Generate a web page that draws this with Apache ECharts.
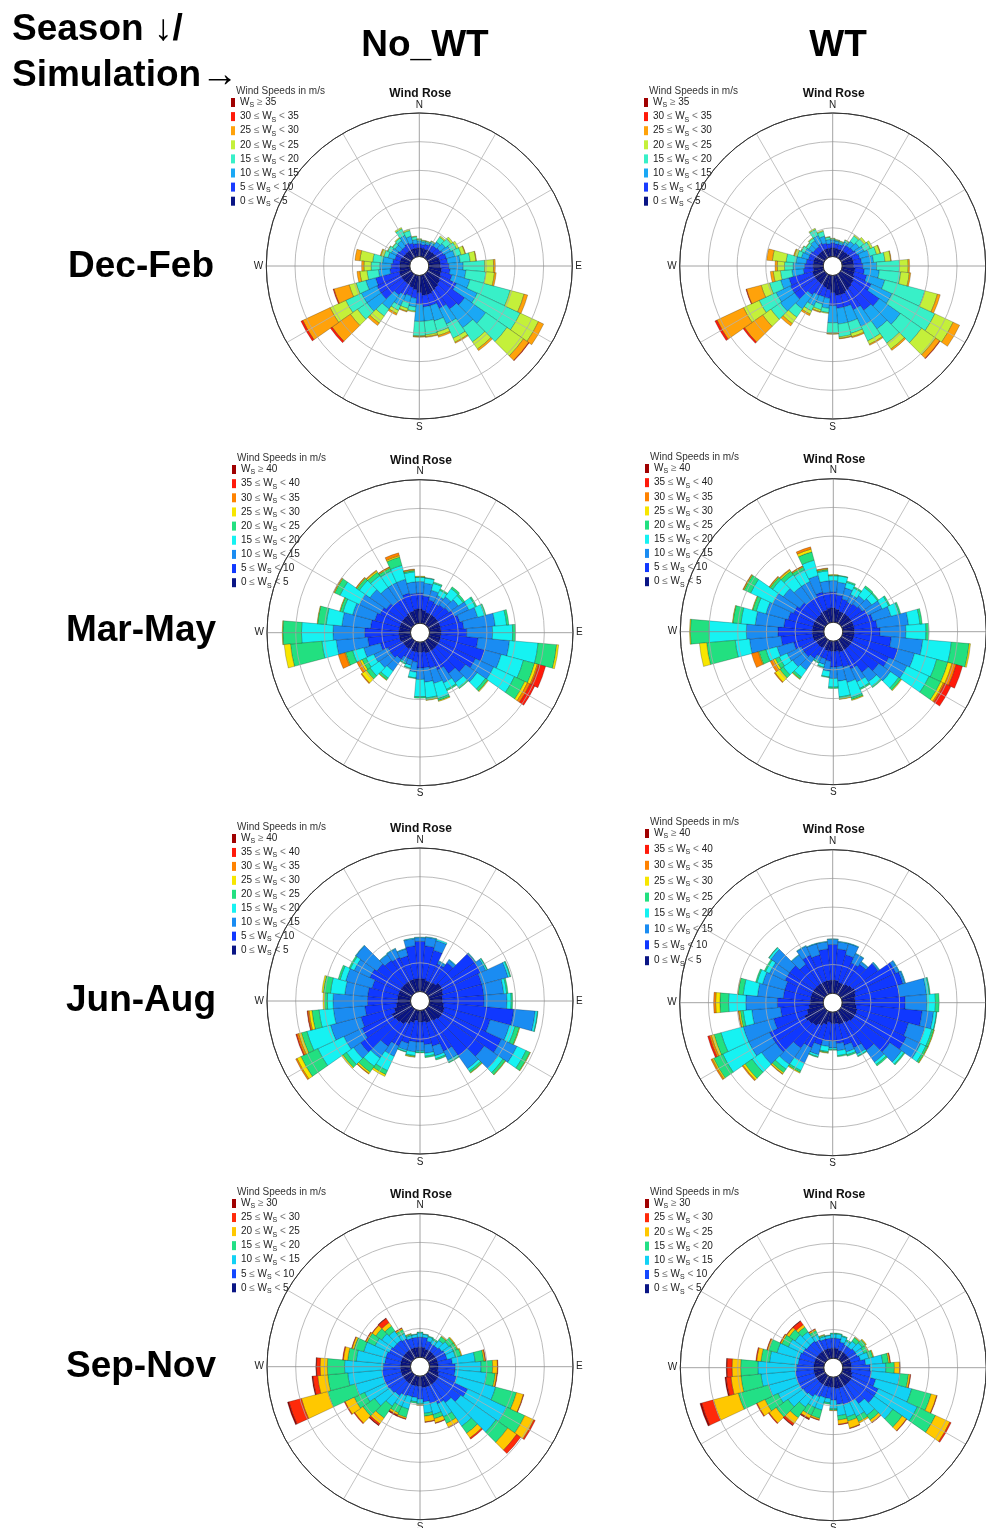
<!DOCTYPE html>
<html><head><meta charset="utf-8">
<script src="https://cdn.jsdelivr.net/npm/echarts@6/dist/echarts.min.js"></script>
<style>html,body{margin:0;padding:0;background:#fff}#c{width:986px;height:1528px}</style>
</head><body><div id="c"></div>
<script>
// ---------- categories ----------
const DIRECTIONS = [0,10,20,30,40,50,60,70,80,90,100,110,120,130,140,150,160,170,180,190,200,210,220,230,240,250,260,270,280,290,300,310,320,330,340,350];
const CARDINALS = {0:'N',90:'E',180:'S',270:'W'};
const SEASONS = ['Dec-Feb','Mar-May','Jun-Aug','Sep-Nov'];
const SIMULATIONS = ['No_WT','WT'];

// speed class edges (m/s)
const DJF_BINS = [0,5,10,15,20,25,30,35];
const MAM_BINS = [0,5,10,15,20,25,30,35,40];
const JJA_BINS = [0,5,10,15,20,25,30,35,40];
const SON_BINS = [0,5,10,15,20,25,30];

const DJF_COLORS = ['#0a1585','#1a3cff','#1aa8f5','#38f0c8','#c4f03a','#ffa20a','#ff1a0a','#a00000'];
const MAM_COLORS = ['#0a1585','#1038ff','#1a8cf2','#16f2f2','#22e080','#f7e600','#ff8200','#ff1a0a','#a00000'];
const JJA_COLORS = MAM_COLORS;
const SON_COLORS = ['#0a1585','#1448ff','#12d2f5','#22e086','#ffc800','#ff2a0a','#a00000'];

// cumulative frequency (ring units) at the outer edge of each speed class, one row per direction
const DJF_NOWT = [
[.30,.45,.55,.60,.62],[.30,.42,.52,.56,.58],[.28,.45,.52,.56,.58],[.30,.50,.58,.62,.64],
[.30,.52,.70,.90,.95],[.32,.55,.78,1.02,1.10],[.35,.60,.88,1.10,1.18],[.40,.65,.95,1.18,1.32,1.34],
[.40,.66,1.10,1.45,1.65,1.67],[.40,.70,1.20,1.95,2.26,2.32],[.45,.75,1.30,2.00,2.30,2.36],[.45,.85,1.50,2.95,3.45,3.58],
[.50,1.10,1.90,3.55,4.25,4.45],[.55,1.60,2.50,3.40,4.10,4.32,4.34],[.60,1.50,2.30,2.90,3.20,3.27],[.65,1.30,1.90,2.45,2.60,2.64],
[.70,1.10,1.65,2.05,2.18,2.24],[.70,1.10,1.60,2.08,2.14,2.17],[.60,1.00,1.60,2.10,2.13,2.15],[.50,.80,1.10,1.25,1.28],
[.45,.75,1.00,1.20,1.30,1.33],[.40,.80,1.20,1.38,1.50,1.56],[.40,.90,1.50,1.80,2.10,2.20],[.40,1.30,1.90,2.30,2.60,3.38,3.45],
[.40,1.30,1.90,2.50,3.10,4.15,4.22],[.40,1.25,1.60,1.95,2.20,2.75,2.78],[.35,.70,1.10,1.50,1.75,1.85],[.35,.65,1.05,1.35,1.60,1.68],
[.35,.60,.95,1.30,1.75,1.92],[.35,.55,.80,.95,1.05,1.08],[.30,.55,.75,.88,.90],[.30,.50,.70,.80,.82],
[.30,.50,.75,.85,.88],[.30,.55,.85,1.10,1.15],[.30,.50,.75,.95,1.00],[.30,.45,.60,.70,.72]
];
const DJF_WT = [
[.30,.48,.58,.62,.64],[.30,.45,.55,.58,.60],[.28,.45,.52,.56,.58],[.30,.50,.60,.66,.68],
[.30,.52,.72,.95,1.00],[.32,.55,.80,1.00,1.08],[.35,.60,.88,1.12,1.20],[.40,.65,1.00,1.25,1.38,1.40],
[.40,.68,1.10,1.50,1.70,1.72],[.40,.72,1.20,2.00,2.30,2.35],[.45,.78,1.30,2.05,2.35,2.40],[.45,.90,1.55,3.00,3.45,3.55],
[.50,1.15,1.95,3.60,4.30,4.55],[.55,1.65,2.55,3.45,4.05,4.22,4.24],[.60,1.55,2.35,2.95,3.20,3.26],[.65,1.35,2.00,2.55,2.68,2.72],
[.70,1.15,1.70,2.10,2.22,2.26],[.70,1.15,1.70,2.15,2.20,2.22],[.60,1.05,1.65,2.00,2.03,2.05],[.50,.80,1.15,1.30,1.33],
[.45,.78,1.05,1.25,1.32,1.35],[.40,.80,1.20,1.40,1.52,1.58],[.40,.90,1.50,1.85,2.12,2.22],[.40,1.30,1.90,2.30,2.65,3.42,3.48],
[.40,1.30,1.85,2.50,3.10,4.12,4.20],[.40,1.25,1.55,1.95,2.25,2.78,2.80],[.35,.70,1.10,1.50,1.75,1.85],[.35,.65,1.05,1.35,1.60,1.68],
[.35,.60,.95,1.30,1.78,1.98],[.35,.55,.80,.95,1.05,1.08],[.30,.55,.75,.88,.90],[.30,.50,.70,.80,.82],
[.30,.50,.75,.85,.88],[.30,.55,.85,1.08,1.12],[.30,.50,.75,.92,.96],[.30,.45,.60,.68,.70]
];
const MAM_NOWT = [
[.50,1.05,1.45,1.60,1.62,1.64],[.45,.95,1.40,1.58,1.60],[.40,.85,1.20,1.45,1.50],[.40,.80,1.10,1.30,1.35],
[.40,.85,1.20,1.55,1.62],[.40,.90,1.30,1.50,1.57],[.40,1.00,1.55,1.80,1.85],[.40,1.10,1.75,2.00,2.05],
[.40,1.20,2.30,2.70,2.78],[.40,1.30,2.20,2.90,3.00],[.40,1.70,2.80,3.80,4.45,4.52],[.40,2.00,2.60,3.40,3.80,3.90,3.95,4.20],
[.40,1.80,2.50,3.30,3.70,3.80,3.90,4.08],[.40,1.60,2.10,2.45,2.55,2.58],[.40,1.40,1.80,2.00,2.05],[.40,1.10,1.60,1.85,1.90],
[.40,.95,1.50,2.05,2.12,2.15],[.35,.90,1.40,1.95,2.02,2.04],[.35,.90,1.30,1.90,1.95],[.35,.70,1.05,1.25,1.28],
[.35,.65,.85,.95,.98],[.30,.65,.80,.85,.88],[.35,.80,1.30,1.60,1.68,1.70],[.35,.90,1.40,1.80,1.95,2.15,2.18],
[.35,.90,1.45,1.75,1.90,1.98,2.10],[.40,1.10,1.70,2.10,2.35,2.38,2.62],[.40,1.50,2.60,3.10,4.20,4.42],[.40,1.60,2.70,3.80,4.45,4.47],
[.40,1.40,2.40,2.95,3.25,3.27],[.40,1.30,2.10,2.45,2.55,2.57],[.40,1.20,2.00,2.75,2.95,2.98,3.00],[.40,1.10,1.80,2.25,2.35,2.38,2.40],
[.40,1.00,1.60,2.10,2.25,2.30,2.33],[.45,1.00,1.60,2.05,2.15,2.18,2.20],[.45,1.10,1.60,2.10,2.40,2.45,2.55],[.50,1.05,1.45,1.80,1.85,1.88,1.90]
];
const MAM_WT = [
[.50,1.05,1.45,1.62,1.64,1.66],[.45,.95,1.40,1.62,1.64],[.40,.85,1.25,1.45,1.50],[.40,.80,1.10,1.35,1.40],
[.40,.85,1.20,1.55,1.62],[.40,.90,1.30,1.55,1.60],[.40,1.00,1.55,1.80,1.85],[.40,1.10,1.75,2.05,2.10],
[.40,1.20,2.30,2.70,2.78],[.40,1.30,2.20,2.90,3.00],[.40,1.70,2.80,3.80,4.42,4.47],[.40,2.00,2.60,3.40,3.80,3.95,4.10,4.33],
[.40,1.80,2.50,3.35,3.80,3.90,3.95,4.19],[.40,1.60,2.10,2.45,2.55,2.58],[.40,1.40,1.80,2.00,2.05],[.40,1.10,1.60,1.85,1.90],
[.40,.95,1.50,2.05,2.12,2.15],[.35,.90,1.40,1.95,2.02,2.04],[.35,.90,1.30,1.60,1.65],[.35,.70,1.05,1.25,1.28],
[.35,.65,.85,.95,.98],[.30,.65,.80,.85,.88],[.35,.80,1.30,1.60,1.68,1.70],[.35,.90,1.40,1.80,1.95,2.15,2.18],
[.35,.90,1.45,1.75,1.90,1.98,2.10],[.40,1.10,1.70,2.10,2.35,2.38,2.62],[.40,1.50,2.60,3.10,4.10,4.35],[.40,1.60,2.70,4.00,4.65,4.68],
[.40,1.40,2.40,2.90,3.18,3.20],[.40,1.30,2.10,2.45,2.58,2.60],[.40,1.20,2.00,2.85,3.10,3.13,3.15],[.40,1.10,1.80,2.25,2.35,2.38,2.40],
[.40,1.00,1.60,2.10,2.25,2.30,2.33],[.45,1.00,1.60,2.05,2.15,2.18,2.20],[.45,1.10,1.70,2.25,2.55,2.65,2.73],[.50,1.05,1.45,1.80,1.85,1.88,1.90]
];
const JJA_NOWT = [
[.45,1.75,1.88,1.90],[.45,1.60,1.90,1.92],[.40,1.50,1.85,1.90],[.40,1.10,1.20,1.22],
[.45,1.30,1.42,1.44],[.55,2.00,2.03,2.05],[.55,2.00,2.20,2.25,2.27],[.50,1.90,2.85,2.92,2.95],
[.45,1.90,2.60,2.70,2.75],[.45,1.90,2.70,2.85,2.90],[.50,2.95,3.70,3.78,3.80],[.55,2.20,2.90,3.10,3.25,3.27],
[.55,2.80,3.40,3.75,3.90,3.92],[.55,2.40,3.00,3.20,3.30,3.32],[.50,2.00,2.55,2.65,2.72,2.74],[.45,1.60,1.95,2.02,2.05],
[.45,1.30,1.65,1.75,1.80],[.40,1.20,1.50,1.60,1.65],[.40,1.10,1.40,1.45,1.48],[.35,1.10,1.45,1.58,1.62,1.64],
[.45,1.20,1.45,1.50,1.52],[.55,1.40,1.80,2.35,2.50,2.57],[.65,1.60,2.10,2.45,2.70,2.76,2.78],[.70,2.20,2.50,2.80,2.95,3.00],
[.75,1.90,2.60,3.60,4.25,4.40,4.45],[.60,1.80,2.90,3.75,3.95,4.05,4.12,4.15],[.50,1.60,2.70,3.20,3.45,3.55,3.60,3.62],[.45,1.50,2.70,2.90,3.00,3.05],
[.45,1.50,2.30,2.80,3.05,3.10],[.45,1.40,2.35,2.55,2.62],[.45,1.60,2.20,2.35,2.40],[.45,1.50,2.40,2.42],
[.45,1.40,1.65,1.67],[.45,1.35,1.68,1.70],[.45,1.30,1.55,1.57],[.45,1.60,1.85,1.87]
];
const JJA_WT = [
[.45,1.70,1.88,1.90],[.45,1.55,1.80,1.82],[.40,1.40,1.80,1.82],[.40,1.20,1.55,1.57],
[.45,1.30,1.40,1.42],[.50,1.60,1.65,1.67],[.55,2.10,2.22,2.24],[.50,2.20,2.28,2.30],
[.45,2.00,2.95,3.05,3.08],[.45,2.20,2.95,3.25,3.38],[.50,2.80,3.20,3.30,3.32],[.55,2.40,3.00,3.25,3.32,3.34],
[.55,2.50,3.05,3.25,3.32,3.34],[.55,2.10,2.60,2.70,2.74],[.50,1.70,2.20,2.30,2.36],[.45,1.40,1.65,1.72,1.75],
[.45,1.20,1.45,1.55,1.60],[.40,1.10,1.35,1.52,1.56],[.40,1.00,1.25,1.30,1.33],[.35,1.00,1.20,1.38,1.42,1.44],
[.45,1.20,1.55,1.62,1.65],[.55,1.40,2.00,2.28,2.35,2.38],[.65,1.60,2.30,2.50,2.65,2.70,2.72],[.70,2.10,2.70,3.10,3.40,3.48,3.52],
[.75,2.10,2.90,3.90,4.25,4.30,4.35],[.60,1.80,2.90,3.70,3.95,4.05,4.12,4.18],[.50,1.50,2.50,2.80,2.90,2.95,2.98],[.45,1.60,2.70,3.30,3.60,3.75,3.82],
[.45,1.40,2.30,2.80,2.98,3.00],[.45,1.40,2.20,2.40,2.45],[.45,1.50,2.10,2.25,2.30],[.45,1.50,2.30,2.38,2.40],
[.45,1.30,1.70,1.72],[.45,1.50,1.85,1.87],[.45,1.40,1.80,1.82],[.45,1.55,1.80,1.82]
];
const SON_NOWT = [
[.35,.70,.85,.88],[.35,.70,.80,.82],[.30,.60,.75,.78],[.30,.55,.70,.75],
[.30,.55,.80,.95,.98],[.30,.60,.90,1.10,1.13],[.30,.65,.95,1.10,1.13],[.30,.65,.95,1.15,1.18],
[.30,.80,1.60,1.90,1.95,1.97],[.30,.90,1.80,2.20,2.37,2.39],[.30,.90,2.00,2.30,2.36,2.38],[.35,1.00,2.40,3.15,3.40,3.42],
[.40,1.50,3.00,3.70,4.05,4.10],[.40,1.40,2.90,3.40,3.78,3.95],[.40,1.20,2.20,2.50,2.70,2.75],[.40,1.10,1.60,1.85,2.00,2.02],
[.40,1.00,1.40,1.55,1.70,1.72],[.40,.90,1.30,1.40,1.60,1.62],[.35,.80,.95,1.00,1.02],[.35,.75,.90,.95],
[.35,.75,1.20,1.50,1.55,1.57],[.35,.80,1.20,1.45,1.52,1.55,1.57],[.35,.90,1.35,1.85,2.10,2.16,2.18],[.35,.95,1.60,2.10,2.45,2.48],
[.35,1.00,1.80,2.20,2.55,2.58],[.35,1.00,2.00,3.00,3.95,4.40,4.45],[.35,1.00,2.20,2.90,3.25,3.42,3.45],[.35,.95,2.30,2.90,3.15,3.28,3.30],
[.35,.90,1.90,2.20,2.35,2.38],[.35,.90,1.70,2.05,2.12,2.14],[.35,.85,1.40,1.70,1.75,1.77],[.35,.80,1.30,1.55,1.70,1.72],
[.35,.80,1.20,1.40,1.55,1.72,1.74],[.35,.75,.95,1.10,1.15,1.17],[.35,.70,.80,.85,.87],[.35,.70,.80,.82]
];
const SON_WT = [
[.35,.70,.85,.88],[.35,.70,.85,.88],[.30,.60,.80,.83],[.30,.55,.70,.75],
[.30,.55,.80,.95,.98],[.30,.60,.90,1.05,1.08],[.30,.60,.85,1.00,1.03],[.30,.65,.95,1.10,1.13],
[.30,.80,1.40,1.60,1.65,1.67],[.30,.95,1.50,1.80,1.98,2.00],[.30,1.00,2.00,2.30,2.36,2.38],[.35,1.20,2.50,3.20,3.40,3.42],
[.40,1.40,2.90,3.60,4.15,4.20],[.40,1.40,2.20,2.60,2.78,2.80],[.40,1.20,1.70,1.90,2.00,2.02],[.40,1.00,1.55,1.75,1.80],
[.40,1.00,1.45,1.60,1.85,1.87],[.40,.95,1.35,1.50,1.65,1.67],[.35,.80,1.10,1.15,1.17],[.35,.75,.90,.95],
[.35,.75,1.20,1.50,1.55,1.57],[.35,.80,1.20,1.50,1.62,1.65,1.67],[.35,.90,1.35,1.80,2.05,2.12,2.14],[.35,.95,1.60,2.10,2.40,2.43],
[.35,1.00,1.80,2.30,2.60,2.63],[.35,1.00,2.00,3.10,4.00,4.42,4.48],[.35,1.00,2.20,2.90,3.25,3.42,3.46],[.35,.95,2.30,2.90,3.20,3.38,3.40],
[.35,.90,1.90,2.20,2.35,2.38],[.35,.90,1.70,2.00,2.05,2.07],[.35,.85,1.40,1.65,1.70,1.72],[.35,.80,1.30,1.55,1.65,1.67],
[.35,.80,1.20,1.40,1.50,1.65,1.67],[.35,.75,.95,1.10,1.15,1.17],[.35,.70,.80,.85,.87],[.35,.70,.80,.82]
];

// ---------- layout (positions only) ----------
const FONT = "'Liberation Sans', Arial, Helvetica, sans-serif";
const PANELS = [
 {key:'djfn', cum:DJF_NOWT, bins:DJF_BINS, colors:DJF_COLORS, cx:419.3, cy:266,   titleY:94,   legX:231, legY:104,  step:15.6, legTitleY:91.5},
 {key:'djfw', cum:DJF_WT,   bins:DJF_BINS, colors:DJF_COLORS, cx:832.7, cy:266,   titleY:94,   legX:644, legY:104,  step:15.6, legTitleY:91.5},
 {key:'mamn', cum:MAM_NOWT, bins:MAM_BINS, colors:MAM_COLORS, cx:420,   cy:632.7, titleY:460.5,legX:232, legY:471,  step:15.65,legTitleY:458},
 {key:'mamw', cum:MAM_WT,   bins:MAM_BINS, colors:MAM_COLORS, cx:833.3, cy:631.7, titleY:459.3,legX:645, legY:470,  step:15.65,legTitleY:457},
 {key:'jjan', cum:JJA_NOWT, bins:JJA_BINS, colors:JJA_COLORS, cx:420,   cy:1001,  titleY:828.3,legX:232, legY:840,  step:15.45,legTitleY:827.5},
 {key:'jjaw', cum:JJA_WT,   bins:JJA_BINS, colors:JJA_COLORS, cx:832.7, cy:1002.7,titleY:830,  legX:645, legY:835,  step:17.4, legTitleY:822},
 {key:'sonn', cum:SON_NOWT, bins:SON_BINS, colors:SON_COLORS, cx:420,   cy:1366.7,titleY:1195, legX:232, legY:1205, step:15.55,legTitleY:1192.5},
 {key:'sonw', cum:SON_WT,   bins:SON_BINS, colors:SON_COLORS, cx:833.3, cy:1367.7,titleY:1195, legX:645, legY:1205, step:15.7, legTitleY:1192.5}
];
const R_IN = 9.5, R_OUT = 153;
const SPOKE_COLORS = ['#8a8a8a','#b3b3b3','#b3b3b3','#8a8a8a','#b3b3b3','#b3b3b3','#8a8a8a','#b3b3b3','#b3b3b3','#8a8a8a','#b3b3b3','#b3b3b3','rgba(0,0,0,0)'];
const RING_COLORS = ['rgba(0,0,0,0)','#aaaaaa','#aaaaaa','#aaaaaa','#aaaaaa','#333333'];

const chart = echarts.init(document.getElementById('c'), null, {renderer:'canvas'});
const polar = [], angleAxis = [], radiusAxis = [], series = [], legend = [], graphic = [];
const LABELS = {};

function classLabel(bins, k){
  const lo = bins[k], hi = bins[k+1];
  if (hi === undefined) return '{t|W}{s|S}{g| \u2265 }{t|' + lo + '}';
  return '{t|' + lo + ' }{g|\u2264}{t| W}{s|S}{g| < }{t|' + hi + '}';
}

PANELS.forEach((p, i) => {
  const pb = 2 * i, pg = 2 * i + 1;
  polar.push({center:[p.cx, p.cy], radius:[R_IN, R_OUT]});   // bars
  polar.push({center:[p.cx, p.cy], radius:[R_IN, R_OUT]});   // grid overlay
  angleAxis.push({polarIndex:pb, type:'category', data:DIRECTIONS.map(String), startAngle:95,
    axisLine:{show:false}, axisTick:{show:false}, axisLabel:{show:false}, splitLine:{show:false}});
  angleAxis.push({polarIndex:pg, type:'value', min:0, max:360, interval:30, startAngle:90, z:10,
    axisLine:{lineStyle:{color:'#333', width:1}}, axisTick:{show:false},
    axisLabel:{margin:3, fontSize:10, color:'#222', fontFamily:FONT, formatter:(v) => (v < 360 && CARDINALS[v]) || ''},
    splitLine:{show:true, lineStyle:{color:SPOKE_COLORS, width:0.8}}});
  radiusAxis.push({polarIndex:pb, type:'value', min:0, max:5, interval:1,
    axisLine:{show:false}, axisTick:{show:false}, axisLabel:{show:false}, splitLine:{show:false}});
  radiusAxis.push({polarIndex:pg, type:'value', min:0, max:5, interval:1, z:10,
    axisLine:{show:false}, axisTick:{show:false}, axisLabel:{show:false},
    splitLine:{show:true, lineStyle:{color:RING_COLORS, width:0.8}}});
  const names = [];
  p.bins.forEach((b, k) => {
    const name = p.key + ':' + k;
    names.push(name);
    LABELS[name] = classLabel(p.bins, k);
    const data = p.cum.map(row => {
      const last = row[row.length - 1];
      const hi = k < row.length ? row[k] : last;
      const lo = k === 0 ? 0 : (k - 1 < row.length ? row[k - 1] : last);
      const v = Math.round((hi - lo) * 1000) / 1000;
      return v > 0 ? v : null;
    });
    series.push({type:'bar', coordinateSystem:'polar', polarIndex:pb, stack:'st' + i, name, data,
      barCategoryGap:'0%', silent:true,
      itemStyle:{color:p.colors[k], borderColor:'rgba(0,0,0,0.45)', borderWidth:0.5}});
  });
  legend.push({
    orient:'vertical', left:p.legX, top:p.legY - 6.5, padding:0, itemGap:p.step - 13,
    itemWidth:4, itemHeight:9, icon:'rect', selectedMode:false,
    data:names.slice().reverse(),
    itemStyle:{borderWidth:0},
    formatter:(n) => LABELS[n],
    textStyle:{fontFamily:FONT, rich:{
      t:{fontSize:10, color:'#222', lineHeight:13, fontFamily:FONT},
      g:{fontSize:10, color:'#777', lineHeight:13, fontFamily:FONT},
      s:{fontSize:7, color:'#222', lineHeight:7, verticalAlign:'bottom', fontFamily:FONT}
    }}
  });
  graphic.push({type:'text', x:p.cx + 1, y:p.titleY, style:{text:'Wind Rose', font:'bold 12px ' + FONT, fill:'#111', textAlign:'center', textVerticalAlign:'middle'}});
  graphic.push({type:'text', x:p.legX + 5, y:p.legTitleY, style:{text:'Wind Speeds in m/s', font:'10px ' + FONT, fill:'#333', textAlign:'left', textVerticalAlign:'middle'}});
});

// big labels
const BIG = 'bold 37px ' + FONT;
graphic.push({type:'text', x:12, y:30, style:{text:'Season \u2193/', font:BIG, fill:'#000', textAlign:'left', textVerticalAlign:'middle'}});
graphic.push({type:'text', x:12, y:76, style:{text:'Simulation\u2192', font:BIG, fill:'#000', textAlign:'left', textVerticalAlign:'middle'}});
graphic.push({type:'text', x:425, y:46, style:{text:SIMULATIONS[0], font:BIG, fill:'#000', textAlign:'center', textVerticalAlign:'middle'}});
graphic.push({type:'text', x:838, y:46, style:{text:SIMULATIONS[1], font:BIG, fill:'#000', textAlign:'center', textVerticalAlign:'middle'}});
const ROW_Y = [267, 631, 1001, 1367];
SEASONS.forEach((s, r) => {
  graphic.push({type:'text', x:141, y:ROW_Y[r], style:{text:s, font:BIG, fill:'#000', textAlign:'center', textVerticalAlign:'middle'}});
});

chart.setOption({
  animation:false, backgroundColor:'#fff',
  polar, angleAxis, radiusAxis, series, legend, graphic
});
</script></body></html>
